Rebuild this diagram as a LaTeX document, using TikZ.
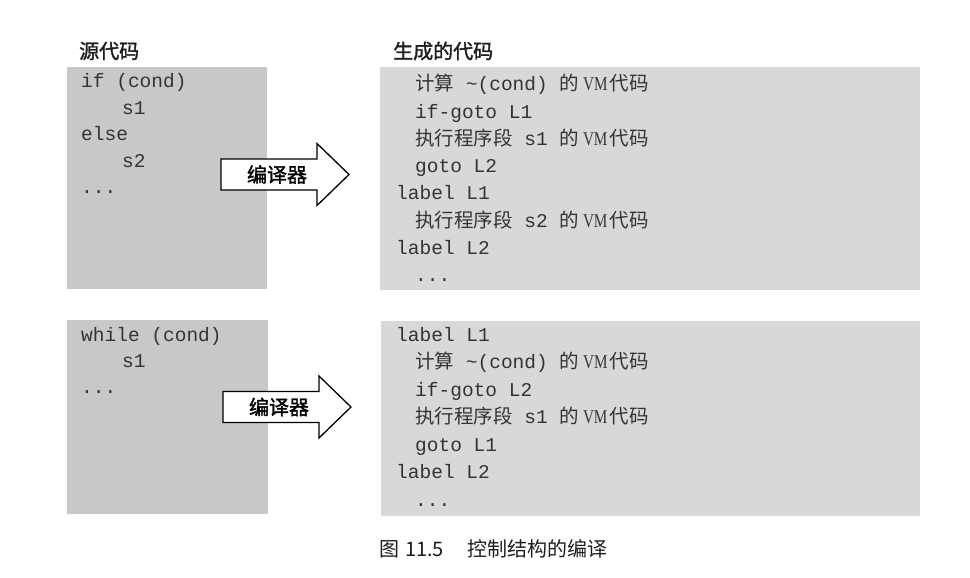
\documentclass[tikz,border=0pt]{standalone}
\usepackage{fontspec}
\setmonofont{Liberation Mono}
\newfontfamily\cjk{Noto Sans CJK SC}
\newfontfamily\cjkbold{Noto Sans CJK SC}[FakeBold=1.6]
\newfontfamily\vmfont{Liberation Serif}

\definecolor{srcgray}{HTML}{C8C8C8}
\definecolor{gengray}{HTML}{D8D8D8}
\definecolor{codeink}{HTML}{333333}
\definecolor{ink}{HTML}{1E1E1E}

% mixed-script pieces used inside the code listings
\newcommand\zh[1]{{\cjk #1}}
\newcommand\vmcode{\zh{的}\hspace{4pt}{\vmfont\fontsize{19.5}{23}\selectfont\scalebox{0.78}[1]{VM}}\hspace{2pt}\zh{代码}}

\tikzset{
  srcbox/.style={fill=srcgray, draw=none, anchor=north west, inner sep=0pt, outer sep=0pt},
  genbox/.style={fill=gengray, draw=none, anchor=north west, inner sep=0pt, outer sep=0pt},
  code/.style={anchor=base west, inner sep=0pt, text=codeink,
    font=\ttfamily\fontsize{19.5}{23}\selectfont},
  heading/.style={anchor=west, inner sep=0pt, text=ink,
    font=\cjkbold\fontsize{20}{24}\selectfont},
  caption/.style={inner sep=0pt, text=ink, font=\cjk\fontsize{20}{24}\selectfont},
  blockarrow/.style={draw=black, line width=1.3pt, fill=white, line join=miter},
  arrowlabel/.style={inner sep=0pt, text=black, font=\cjkbold\fontsize{20}{24}\selectfont},
}

\begin{document}
\begin{tikzpicture}[x=1pt, y=-1pt]
  \fill[white] (0,0) rectangle (970,578);
  \useasboundingbox (0,0) rectangle (970,578);

  % column headings
  \node[heading] (hsrc) at (79,51) {源代码};
  \node[heading] (hgen) at (393,51) {生成的代码};

  % shaded listing panels
  \node[srcbox, minimum width=200pt, minimum height=222pt] (src1) at (67,67) {};
  \node[genbox, minimum width=540pt, minimum height=223pt] (gen1) at (380,67) {};
  \node[srcbox, minimum width=201pt, minimum height=194pt] (src2) at (67,320) {};
  \node[genbox, minimum width=539pt, minimum height=195pt] (gen2) at (381,321) {};

  % if / else source
  \node[code] (a1) at (81,88)    {if (cond)};
  \node[code] (a2) at (122,114.4) {s1};
  \node[code] (a3) at (81,140.8)  {else};
  \node[code] (a4) at (122,167.2) {s2};
  \node[code] (a5) at (81,193.6)  {...};

  % if / else translation
  \node[code] (b1) at (415,91)    {\zh{计算} \textasciitilde(cond) \vmcode};
  \node[code] (b2) at (415,118.2) {if-goto L1};
  \node[code] (b3) at (415,145.4) {\zh{执行程序段} s1 \vmcode};
  \node[code] (b4) at (415,172.6) {goto L2};
  \node[code] (b5) at (396,199.8) {label L1};
  \node[code] (b6) at (415,227)   {\zh{执行程序段} s2 \vmcode};
  \node[code] (b7) at (396,254.2) {label L2};
  \node[code] (b8) at (415,281.4) {...};

  % while source
  \node[code] (c1) at (81,341)    {while (cond)};
  \node[code] (c2) at (122,367.4) {s1};
  \node[code] (c3) at (81,393.8)  {...};

  % while translation
  \node[code] (d1) at (396,341)   {label L1};
  \node[code] (d2) at (415,368.5) {\zh{计算} \textasciitilde(cond) \vmcode};
  \node[code] (d3) at (415,396)   {if-goto L2};
  \node[code] (d4) at (415,423.5) {\zh{执行程序段} s1 \vmcode};
  \node[code] (d5) at (415,451)   {goto L1};
  \node[code] (d6) at (396,478.5) {label L2};
  \node[code] (d7) at (415,506)   {...};

  % compiler block arrows
  \coordinate (k1) at (277,174.5);
  \coordinate (k2) at (279,407);
  \foreach \k in {k1,k2}{
    \draw[blockarrow, shift={(\k)}]
      (-56,-15.5) -- (40,-15.5) -- (40,-31) -- (72,0) -- (40,31)
      -- (40,15.5) -- (-56,15.5) -- cycle;
  }
  \node[arrowlabel] (comp1) at (k1) {编译器};
  \node[arrowlabel] (comp2) at (k2) {编译器};

  % figure caption
  \node[caption] (cap) at (493.5,549) {图\hspace{0.3em}11.5\hspace{1.2em}控制结构的编译};
\end{tikzpicture}
\end{document}
